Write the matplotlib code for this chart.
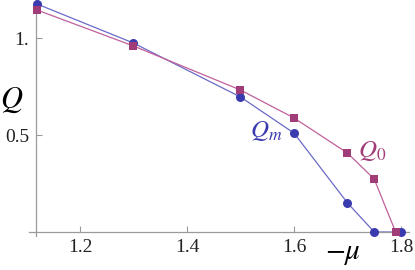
import matplotlib
matplotlib.use("Agg")
import matplotlib.pyplot as plt

plt.rcParams['mathtext.fontset'] = 'stix'
plt.rcParams['font.family'] = 'serif'
plt.rcParams['font.serif'] = ['Liberation Serif', 'STIXGeneral', 'DejaVu Serif']

mu_m = [1.12, 1.3, 1.5, 1.6, 1.7, 1.75, 1.8]
Q_m = [1.175, 0.974, 0.696, 0.51, 0.15, 0.0, 0.0]
mu_0 = [1.12, 1.3, 1.5, 1.6, 1.7, 1.75, 1.79]
Q_0 = [1.144, 0.959, 0.732, 0.588, 0.407, 0.273, 0.0]

xticks = [1.2, 1.4, 1.6, 1.8]
xticklabels = ['1.2', '1.4', '1.6', '1.8']
yticks = [0.5, 1.0]
yticklabels = ['0.5', '1.']

blue = '#3b3bb0'
pink = '#a03c78'
blue_line = '#6a6ac8'
pink_line = '#c0609a'

fig = plt.figure(figsize=(4.15, 2.70), dpi=100)
ax = fig.add_axes([29/415, (270-236)/270, (409-29)/415, 236/270])

ax.plot(mu_m, Q_m, '-', color=blue_line, lw=0.9, zorder=2)
ax.plot(mu_0, Q_0, '-', color=pink_line, lw=0.9, zorder=3)
ax.plot(mu_m, Q_m, 'o', color=blue, ms=6.5, mew=0, zorder=4, clip_on=False)
ax.plot(mu_0, Q_0, 's', color=pink, ms=5.5, mew=0, zorder=5, clip_on=False)

ax.set_xlim(1.1047, 1.815)
ax.set_ylim(-0.0206, 1.196)

for s in ['top', 'right']:
    ax.spines[s].set_visible(False)
ax.spines['left'].set_position(('data', 1.118))
ax.spines['bottom'].set_position(('data', 0.0))
for s in ['left', 'bottom']:
    ax.spines[s].set_color('#9a9a9a')
    ax.spines[s].set_linewidth(0.9)

ax.set_xticks(xticks)
ax.set_xticklabels(xticklabels, fontfamily='Liberation Serif')
ax.set_yticks(yticks)
ax.set_yticklabels(yticklabels, fontfamily='Liberation Serif')
ax.tick_params(direction='in', length=4, width=0.8, color='#9a9a9a',
               labelsize=14, labelcolor='#222222', pad=5)

ax.text(0.0, 1-100/270, r'$Q$', transform=fig.transFigure, fontsize=22,
        ha='left', va='center')
ax.text(343/415, 1-254/270, r'$-\mu$', transform=fig.transFigure,
        fontsize=21, ha='center', va='center')
ax.text(266/415, 1-131/270, r'$Q_m$', transform=fig.transFigure,
        fontsize=18, ha='center', va='center', color=blue)
ax.text(372/415, 1-151/270, r'$Q_0$', transform=fig.transFigure,
        fontsize=18, ha='center', va='center', color=pink)

fig.savefig('out.png', dpi=100)
